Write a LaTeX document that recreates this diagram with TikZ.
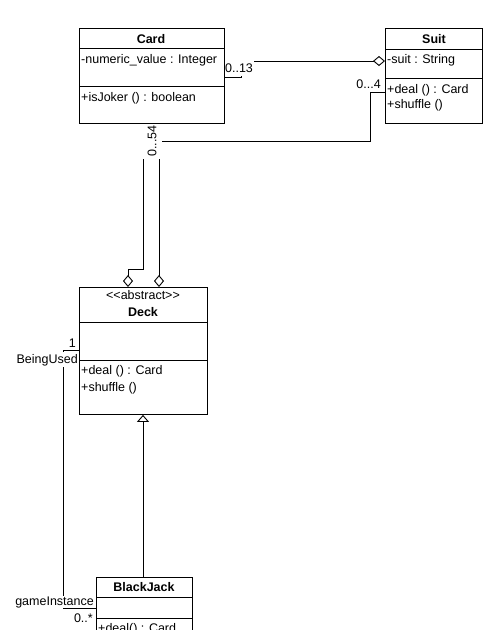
\documentclass[tikz,border=0pt]{standalone}
\usepackage{fontspec}
\setmainfont{Liberation Sans}
\usepackage{tikz}
\usetikzlibrary{arrows.meta}
\usetikzlibrary{positioning}

\tikzset{
	umlbox/.style={draw, line width=0.9pt, anchor=north west, inner sep=0pt},
	umlline/.style={line width=0.9pt},
	classname/.style={anchor=base, inner sep=0pt, font=\fontsize{12.5}{15}\selectfont\bfseries},
	member/.style={anchor=base west, inner sep=0pt, font=\fontsize{12.5}{15}\selectfont},
	mult/.style={fill=white, inner sep=0pt, font=\fontsize{12.5}{15}\selectfont},
	aggr/.style={-{Diamond[open,length=12pt,width=10pt]}},
	inherit/.style={-{Triangle[open,length=7pt,width=12pt]}}
}

\begin{document}
\begin{tikzpicture}[x=1pt,y=-1pt]
			\clip (0,0) rectangle (490,630);
			\fill[white] (0,0) rectangle (490,630);
			
			% connectors first, labels cover them, boxes on top
			\coordinate (cs1) at (241,77);
			\coordinate (cs2) at (241,61);
			\coordinate (sd1) at (370,92);
			\coordinate (sd2) at (370,141);
			\coordinate (sd3) at (159,141);
			\coordinate (cd1) at (143,269);
			\coordinate (cd2) at (128,269);
			\coordinate (db1) at (63,350);
			\coordinate (db2) at (63,608);
			
			\node[umlbox, minimum width=145pt, minimum height=95pt] (card) at (79,28) {};
			\node[umlbox, minimum width=97pt, minimum height=95pt] (suit) at (385,28) {};
			\node[umlbox, minimum width=128pt, minimum height=127pt] (deck) at (79,287) {};
			\node[umlbox, minimum width=96pt, minimum height=80pt] (blackjack) at (96,577) {};
			
			\draw[umlline, aggr] (card.east |- cs1) -- (cs1) -- (cs2) -- (suit.west |- cs2);
			\draw[umlline, aggr] (suit.west |- sd1) -- (sd1) -- (sd2) -- (sd3) -- (deck.north -| sd3);
			\draw[umlline, aggr] (card.south -| cd1) -- (cd1) -- (cd2) -- (deck.north -| cd2);
			\draw[umlline] (deck.west |- db1) -- (db1) -- (db2) -- (blackjack.west |- db2);
			\draw[umlline, inherit] (blackjack.north -| cd1) -- (deck.south -| cd1);
			
			% multiplicities and roles
			\node[mult, minimum width=30pt, minimum height=16pt] (m13) at (239,68) {0..13};
			\node[mult, anchor=base east] (m4) at (381,88) {0...4};
			\node[mult, rotate=90, minimum width=35pt, minimum height=19pt] (m54) at (152,141) {0...54};
			\node[mult, anchor=base east] (m1) at (76,347) {1};
			\node[mult, anchor=base east, inner xsep=1pt, inner ysep=1.5pt] (beingused) at (79,363) {BeingUsed};
			\node[mult, anchor=base east, inner xsep=1pt] (gameinst) at (95,605) {gameInstance};
			\node[mult, anchor=base east] (mstar) at (93,622) {0..*};
			
			% class boxes
			\draw[umlline] (card.north west) rectangle (card.south east);
			\draw[umlline] (card.west |- 0,48) -- (card.east |- 0,48);
			\draw[umlline] (card.west |- 0,86) -- (card.east |- 0,86);
			\node[classname] (cardname) at (151,43) {Card};
			\node[member] (cardattr) at (81,63) {-numeric\_value : Integer};
			\node[member] (cardop) at (81,101) {+isJoker () : boolean};
			
			\draw[umlline] (suit.north west) rectangle (suit.south east);
			\draw[umlline] (suit.west |- 0,49) -- (suit.east |- 0,49);
			\draw[umlline] (suit.west |- 0,78) -- (suit.east |- 0,78);
			\node[classname] (suitname) at (434,43) {Suit};
			\node[member] (suitattr) at (387,63) {-suit : String};
			\node[member] (suitop1) at (387,93) {+deal () : Card};
			\node[member] (suitop2) at (387,108) {+shuffle ()};
			
			\draw[umlline] (deck.north west) rectangle (deck.south east);
			\draw[umlline] (deck.west |- 0,322) -- (deck.east |- 0,322);
			\draw[umlline] (deck.west |- 0,360) -- (deck.east |- 0,360);
			\node[anchor=base, inner sep=0pt, font=\fontsize{12.5}{15}\selectfont] (deckstereo) at (143,299) {\textless{}\textless{}abstract\textgreater{}\textgreater{}};
			\node[classname] (deckname) at (143,316) {Deck};
			\node[member] (deckop1) at (81,374) {+deal () : Card};
			\node[member] (deckop2) at (81,391) {+shuffle ()};
			
			\draw[umlline] (blackjack.north west) rectangle (blackjack.south east);
			\draw[umlline] (blackjack.west |- 0,597) -- (blackjack.east |- 0,597);
			\draw[umlline] (blackjack.west |- 0,618) -- (blackjack.east |- 0,618);
			\node[classname] (bjname) at (144,591) {BlackJack};
			\node[member] (bjop) at (98,632) {+deal() : Card};
			
		\end{tikzpicture}
\end{document}
